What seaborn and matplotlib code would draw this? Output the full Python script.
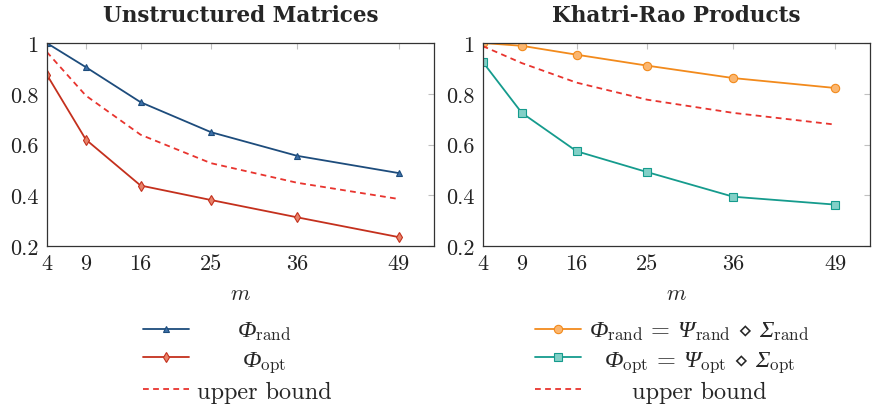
import pandas as pd
import matplotlib
matplotlib.use("Agg")
import matplotlib.pyplot as plt
from matplotlib.font_manager import FontProperties
import seaborn as sns

# --- Data ---
M_VALUES = [4, 9, 16, 25, 36, 49]
Y_TICKS = [0.2, 0.4, 0.6, 0.8, 1.0]
Y_TICK_LABELS = ['0.2', '0.4', '0.6', '0.8', '1']

# Unstructured matrices
UNS_RAND = [1.0, 0.905, 0.767, 0.649, 0.556, 0.488]
UNS_OPT = [0.876, 0.620, 0.439, 0.382, 0.314, 0.236]
UNS_BOUND = [0.965, 0.793, 0.639, 0.527, 0.450, 0.386]

# Khatri-Rao products
KR_RAND = [1.0, 0.989, 0.954, 0.911, 0.862, 0.823]
KR_OPT = [0.926, 0.725, 0.574, 0.492, 0.395, 0.364]
KR_BOUND = [0.988, 0.921, 0.844, 0.777, 0.725, 0.679]

TITLES = ['Unstructured Matrices', 'Khatri-Rao Products']
# Greek capitals go through mathtext 'rm' (set to an italic serif below),
# subscripts use \mathsf (set to upright cmr10)
LABELS_UNS = [r'$\Phi_{\mathsf{rand}}$', r'$\Phi_{\mathsf{opt}}$', 'upper bound']
LABELS_KR = [r'$\Phi_{\mathsf{rand}}\;\mathsf{=}\;\Psi_{\mathsf{rand}}\;\diamond\;\Sigma_{\mathsf{rand}}$',
             r'$\Phi_{\mathsf{opt}}\;\mathsf{=}\;\Psi_{\mathsf{opt}}\;\diamond\;\Sigma_{\mathsf{opt}}$',
             'upper bound']

# --- Styles ---
BLUE, BLUE_FILL = '#1d4c7c', '#3d70a8'
RED, RED_FILL = '#c4301d', '#e8836a'
DASH_RED = '#e8342e'
ORANGE, ORANGE_FILL = '#f28a1c', '#fbb66f'
TEAL, TEAL_FILL = '#159b8d', '#82d0c7'


def make_frame(values):
    return pd.DataFrame({'m': M_VALUES, 'value': values})


def draw_series(ax, values, color, fill, marker, ms, label, dashed=False):
    kw = dict(color=color, linewidth=1.3, label=label, ax=ax)
    if dashed:
        kw.update(dashes=(3.2, 2.4))
    else:
        kw.update(marker=marker, markersize=ms, markerfacecolor=fill,
                  markeredgecolor=color, markeredgewidth=0.8)
    sns.lineplot(data=make_frame(values), x='m', y='value', **kw)


def style_axes(ax, title):
    ax.set_xlim(4, 53.5)
    ax.set_ylim(0.2, 1.0)
    ax.set_xticks(M_VALUES)
    ax.set_xticklabels([str(m) for m in M_VALUES])
    ax.set_yticks(Y_TICKS)
    ax.set_yticklabels(Y_TICK_LABELS)
    ax.tick_params(direction='in', length=4.5, width=0.8, color='#c0c0c0',
                   top=True, right=True, labelsize=16, labelcolor='#222222')
    ax.tick_params(axis='y', pad=6)
    ax.tick_params(axis='x', pad=5)
    for sp in ax.spines.values():
        sp.set_color('#333333')
        sp.set_linewidth(0.9)
        sp.set_visible(True)
    ax.set_xlabel('$m$', labelpad=8,
                  fontproperties=FontProperties(size=16, math_fontfamily='cm'))
    ax.set_ylabel('')
    ax.set_title(title, fontsize=15.5, fontfamily='DejaVu Serif', fontweight='bold', pad=16)
    ax.grid(False)
    if ax.get_legend() is not None:
        ax.get_legend().remove()


def center_legend_texts(fig, leg):
    fig.canvas.draw()
    renderer = fig.canvas.get_renderer()
    texts = leg.get_texts()
    widths = [t.get_window_extent(renderer).width for t in texts]
    full = max(widths)
    for t, w in zip(texts, widths):
        t.set_position(((full - w) / 2, 0))


def main():
    sns.set_theme(style="white")
    plt.rcParams['font.family'] = ['cmr10', 'DejaVu Serif']
    plt.rcParams['mathtext.fontset'] = 'custom'
    plt.rcParams['mathtext.rm'] = 'Liberation Serif:italic'
    plt.rcParams['mathtext.it'] = 'Liberation Serif:italic'
    plt.rcParams['mathtext.sf'] = 'cmr10'
    plt.rcParams['mathtext.fallback'] = 'stix'
    plt.rcParams['axes.formatter.use_mathtext'] = True

    fig = plt.figure(figsize=(8.72, 4.06), dpi=100)
    ax1 = fig.add_axes([0.0536, 0.391, 0.444, 0.5006])
    ax2 = fig.add_axes([0.5535, 0.391, 0.4445, 0.5006])

    draw_series(ax1, UNS_RAND, BLUE, BLUE_FILL, '^', 5, LABELS_UNS[0])
    draw_series(ax1, UNS_OPT, RED, RED_FILL, 'd', 5, LABELS_UNS[1])
    draw_series(ax1, UNS_BOUND, DASH_RED, DASH_RED, None, 0, LABELS_UNS[2], dashed=True)

    draw_series(ax2, KR_RAND, ORANGE, ORANGE_FILL, 'o', 6, LABELS_KR[0])
    draw_series(ax2, KR_OPT, TEAL, TEAL_FILL, 's', 6, LABELS_KR[1])
    draw_series(ax2, KR_BOUND, DASH_RED, DASH_RED, None, 0, LABELS_KR[2], dashed=True)

    h1, l1 = ax1.get_legend_handles_labels()
    h2, l2 = ax2.get_legend_handles_labels()

    style_axes(ax1, TITLES[0])
    style_axes(ax2, TITLES[1])

    legend_kw = dict(loc='upper left', frameon=False,
                     prop=FontProperties(family='cmr10', size=17.5),
                     handlelength=1.9, handletextpad=0.33, labelspacing=0.26,
                     borderaxespad=0, borderpad=0)
    leg1 = fig.legend(h1, l1, bbox_to_anchor=(143 / 872, 1 - 321 / 406), **legend_kw)
    leg2 = fig.legend(h2, l2, bbox_to_anchor=(535 / 872, 1 - 321 / 406), **legend_kw)

    center_legend_texts(fig, leg1)
    center_legend_texts(fig, leg2)

    fig.savefig('out.png', dpi=100)
    plt.close(fig)


if __name__ == "__main__":
    main()
